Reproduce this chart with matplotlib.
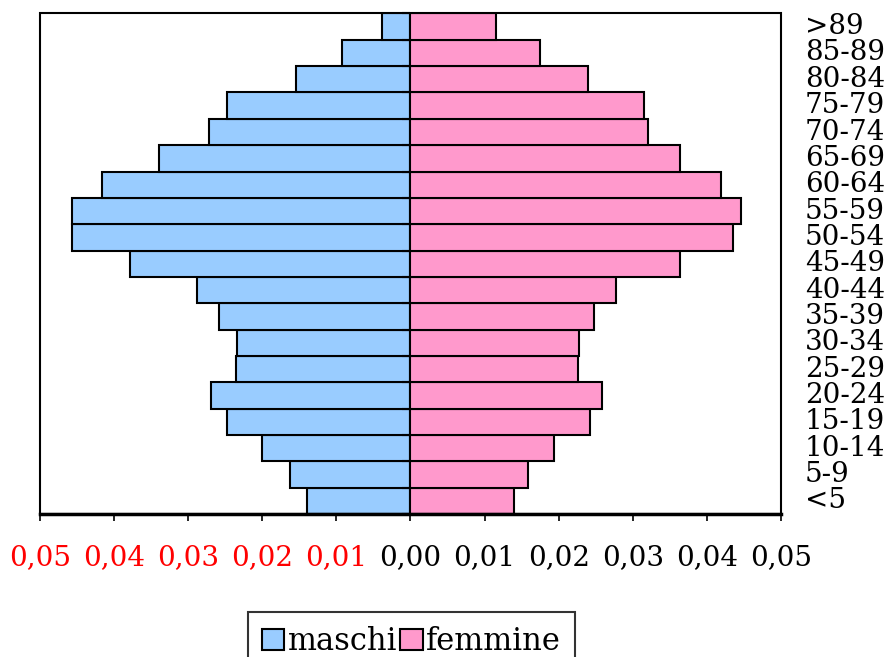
import matplotlib.pyplot as plt
from matplotlib.patches import Rectangle

eta = ["<5", "5-9", "10-14", "15-19", "20-24", "25-29", "30-34", "35-39", "40-44",
       "45-49", "50-54", "55-59", "60-64", "65-69", "70-74", "75-79", "80-84", "85-89", ">89"]
maschi = [0.0139, 0.0163, 0.0201, 0.0247, 0.0269, 0.0236, 0.0234, 0.0258, 0.0288,
          0.0378, 0.0457, 0.0457, 0.0416, 0.0340, 0.0272, 0.0247, 0.0155, 0.0092, 0.0038]
femmine = [0.0140, 0.0159, 0.0194, 0.0242, 0.0258, 0.0226, 0.0228, 0.0247, 0.0277,
           0.0363, 0.0435, 0.0446, 0.0419, 0.0363, 0.0320, 0.0315, 0.0239, 0.0175, 0.0116]
xticks = [-0.05, -0.04, -0.03, -0.02, -0.01, 0.0, 0.01, 0.02, 0.03, 0.04, 0.05]

plt.rcParams['font.family'] = 'DejaVu Serif'

fig = plt.figure(figsize=(8.92, 6.57), dpi=100)
ax = fig.add_axes([0.0448, 0.2177, 0.8308, 0.7618])

y = list(range(len(eta)))
ax.barh(y, [-m for m in maschi], height=1.0, color='#99CCFF', edgecolor='black', linewidth=1.5, label='maschi')
ax.barh(y, femmine, height=1.0, color='#FF99CC', edgecolor='black', linewidth=1.5, label='femmine')

ax.set_xlim(-0.05, 0.05)
ax.set_ylim(-0.5, len(eta) - 0.5)

# asse y al centro, solo tacche
ax.spines['left'].set_position(('data', 0))
ax.spines['left'].set_visible(False)
ax.spines['right'].set_visible(False)
ax.spines['top'].set_visible(False)
ax.spines['bottom'].set_linewidth(2.5)
ax.add_patch(Rectangle((0, 0), 1, 1, transform=ax.transAxes, fill=False,
                       edgecolor='black', linewidth=1.5, zorder=5, clip_on=False))
ax.set_yticks([i - 0.5 for i in range(len(eta) + 1)])
ax.set_yticklabels([])
ax.tick_params(axis='y', direction='out', length=6, width=1.5)

ax.set_xticks(xticks)
ax.set_xticklabels([('%.2f' % abs(v)).replace('.', ',') for v in xticks], fontsize=20)
for lab, v in zip(ax.get_xticklabels(), xticks):
    lab.set_color('red' if v < 0 else 'black')
ax.tick_params(axis='x', direction='out', length=5, width=1.2, pad=17)

for i, e in enumerate(eta):
    ax.text(1.032, i, e, transform=ax.get_yaxis_transform(), fontsize=20,
            ha='left', va='center')

leg = fig.legend(loc='upper center', bbox_to_anchor=(0.461, 0.068), ncol=2, fontsize=22,
                 frameon=True, fancybox=False, edgecolor='black', handlelength=0.75,
                 handleheight=0.7, handletextpad=0.1, columnspacing=0.1,
                 borderpad=0.45, borderaxespad=0)
leg.get_frame().set_linewidth(1.5)

fig.savefig('out.png', dpi=100)
